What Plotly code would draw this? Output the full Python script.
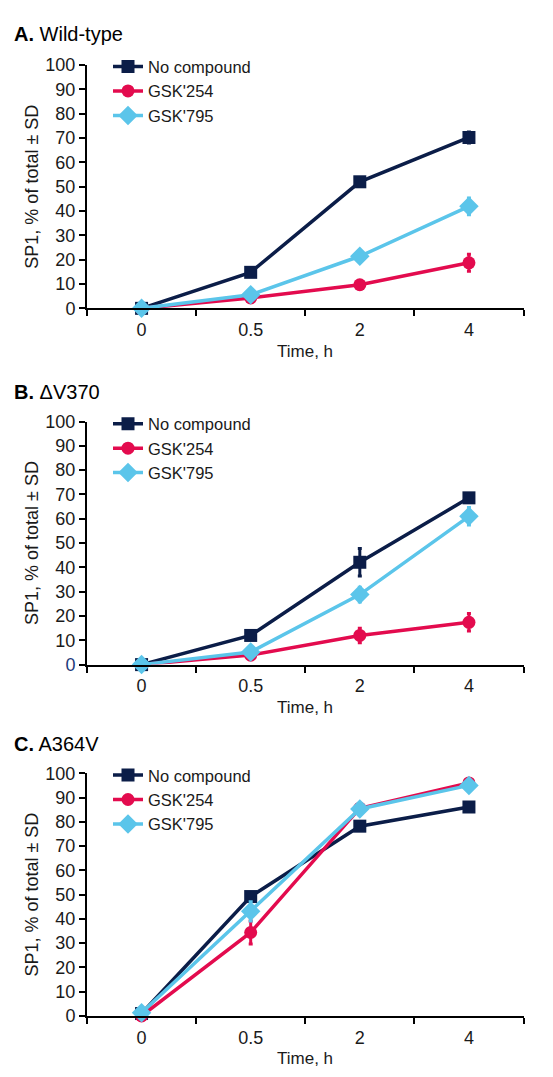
import plotly.graph_objects as go

W, H = 553, 1077

time_labels = ["0", "0.5", "2", "4"]
series_names = ["No compound", "GSK'254", "GSK'795"]
colors = ["#0b1d48", "#e30b4e", "#5bc5ea"]
symbols = ["square", "circle", "diamond"]
marker_sizes = [13, 13, 15]

panel_titles = ["<b>A.</b> Wild-type", "<b>B.</b> ΔV370", "<b>C.</b> A364V"]

# Panel A: Wild-type
wt_none = [0, 14.8, 52.0, 70.2]
wt_none_sd = [0, 0.8, 1.0, 2.3]
wt_254 = [0, 4.3, 9.7, 18.7]
wt_254_sd = [0, 0.5, 0.8, 3.5]
wt_795 = [0, 5.6, 21.4, 41.9]
wt_795_sd = [0, 0.5, 1.5, 3.4]

# Panel B: ΔV370
dv_none = [0, 12.0, 42.1, 68.6]
dv_none_sd = [0, 0.8, 5.7, 1.5]
dv_254 = [0, 3.9, 12.0, 17.4]
dv_254_sd = [0, 0.5, 3.0, 3.6]
dv_795 = [0, 5.2, 28.8, 61.0]
dv_795_sd = [0, 0.5, 3.0, 3.6]

# Panel C: A364V
av_none = [1.0, 49.2, 78.2, 86.1]
av_none_sd = [0, 1.0, 1.0, 1.0]
av_254 = [0, 34.4, 85.6, 96.0]
av_254_sd = [0, 4.7, 1.0, 1.0]
av_795 = [1.3, 43.1, 85.3, 95.0]
av_795_sd = [0, 4.0, 1.0, 1.0]

panels = [
    [(wt_none, wt_none_sd), (wt_254, wt_254_sd), (wt_795, wt_795_sd)],
    [(dv_none, dv_none_sd), (dv_254, dv_254_sd), (dv_795, dv_795_sd)],
    [(av_none, av_none_sd), (av_254, av_254_sd), (av_795, av_795_sd)],
]

y_ticks = [0, 10, 20, 30, 40, 50, 60, 70, 80, 90, 100]

# pixel geometry (top of plot = value 100, bottom = value 0)
y_px = [(56, 304), (419.3, 667), (777.7, 1025)]
title_px = [24, 389, 748]
xtitle_px = [348, 711, 1068]
legend_px = [40, 404, 762]
x_left, x_right = 87, 523.5

FONT = "Liberation Sans, Arial, sans-serif"

fig = go.Figure()
layout = dict(
    width=W, height=H,
    margin=dict(l=0, r=0, t=0, b=0),
    paper_bgcolor="white", plot_bgcolor="white",
    font=dict(family=FONT, color="#1a1a1a"),
    annotations=[],
)

for p in range(3):
    sfx = "" if p == 0 else str(p + 1)
    xa = "x" + sfx
    ya = "y" + sfx
    leg = "legend" + sfx
    for s in range(3):
        vals, sd = panels[p][s]
        fig.add_trace(go.Scatter(
            x=time_labels, y=vals,
            xaxis=xa, yaxis=ya,
            name=series_names[s],
            legend=leg,
            mode="lines+markers",
            line=dict(color=colors[s], width=3.5),
            marker=dict(symbol=symbols[s], size=marker_sizes[s], color=colors[s]),
            error_y=dict(type="data", array=sd, visible=True, color=colors[s],
                         thickness=3, width=2),
            cliponaxis=False,
        ))
    top, bot = y_px[p]
    ticktext = [str(v) for v in y_ticks]
    if p == 1:
        ticktext[0] = '<span style="color:#1d3a7a">0</span>'
    layout["xaxis" + sfx] = dict(
        type="category", categoryorder="array", categoryarray=time_labels,
        range=[-0.5, 3.5], domain=[x_left / W, x_right / W],
        anchor=ya, showline=True, linecolor="black", linewidth=2,
        ticks="outside", tickson="boundaries", ticklen=6, tickwidth=2,
        tickcolor="black", showgrid=False, zeroline=False,
        tickfont=dict(size=18, family=FONT, color="#1a1a1a"),
        ticklabelstandoff=4,
    )
    layout["yaxis" + sfx] = dict(
        range=[0, 100], domain=[1 - bot / H, 1 - top / H],
        anchor=xa, showline=True, linecolor="black", linewidth=2,
        ticks="outside", ticklen=6, tickwidth=2, tickcolor="black",
        tickvals=y_ticks, ticktext=ticktext, showgrid=False, zeroline=False,
        tickfont=dict(size=18, family=FONT, color="#1a1a1a"),
    )
    layout[leg] = dict(
        x=108 / W, y=1 - legend_px[p] / H, xanchor="left", yanchor="top",
        bgcolor="rgba(0,0,0,0)", borderwidth=0,
        font=dict(size=16.5, family=FONT, color="#1a1a1a"),
        tracegroupgap=0, itemwidth=30,
    )
    layout["annotations"].append(dict(
        text=panel_titles[p], x=12 / W, y=1 - title_px[p] / H,
        xref="paper", yref="paper", xanchor="left", yanchor="middle",
        showarrow=False, font=dict(size=20, family=FONT, color="black"),
    ))
    layout["annotations"].append(dict(
        text="SP1, % of total ± SD", x=32 / W, y=1 - (top + bot) / 2 / H,
        xref="paper", yref="paper", xanchor="center", yanchor="middle",
        textangle=-90, showarrow=False,
        font=dict(size=18, family=FONT, color="#1a1a1a"),
    ))
    layout["annotations"].append(dict(
        text="Time, h", x=(x_left + x_right) / 2 / W, y=1 - xtitle_px[p] / H,
        xref="paper", yref="paper", xanchor="center", yanchor="middle",
        showarrow=False, font=dict(size=17, family=FONT, color="#1a1a1a"),
    ))

fig.update_layout(**layout)
fig.write_html(
    "out.html",
    config={"displayModeBar": False},
    post_script="document.body.style.margin='0';document.body.style.overflow='hidden';"
                "document.documentElement.style.overflow='hidden';",
)
